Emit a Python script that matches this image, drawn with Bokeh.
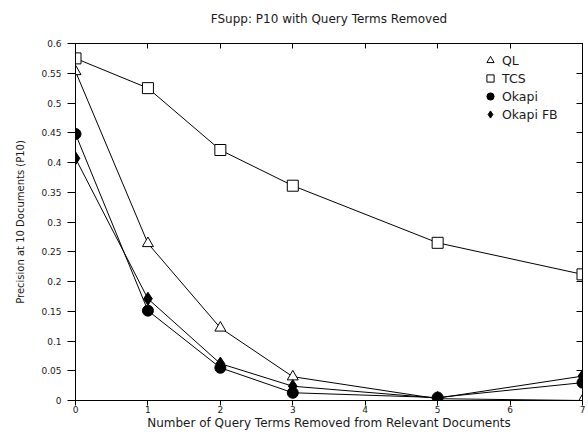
from bokeh.plotting import figure
from bokeh.models import LinearAxis, FixedTicker, Legend, LegendItem, Range1d
from bokeh.embed import file_html
from bokeh.resources import INLINE

x_vals = [0, 1, 2, 3, 5, 7]
ql = [0.553, 0.264, 0.122, 0.040, 0.003, 0.0]
tcs = [0.575, 0.525, 0.421, 0.361, 0.265, 0.212]
okapi = [0.448, 0.151, 0.055, 0.013, 0.005, 0.030]
okapi_fb = [0.407, 0.171, 0.062, 0.024, 0.004, 0.041]

x_ticks = [0, 1, 2, 3, 4, 5, 6, 7]
y_ticks = [0, 0.05, 0.1, 0.15, 0.2, 0.25, 0.3, 0.35, 0.4, 0.45, 0.5, 0.55, 0.6]
y_tick_labels = ["0", "0.05", "0.1", "0.15", "0.2", "0.25", "0.3", "0.35", "0.4", "0.45", "0.5", "0.55", "0.6"]

title_text = "FSupp: P10 with Query Terms Removed"
x_label = "Number of Query Terms Removed from Relevant Documents"
y_label = "Precision at 10 Documents (P10)"

FONT = "DejaVu Sans"
TXT = "#1a1a1a"

p = figure(width=588, height=432, output_backend="svg", toolbar_location=None,
           x_range=Range1d(0, 7), y_range=Range1d(0, 0.6),
           min_border_left=75, min_border_right=6, min_border_top=43, min_border_bottom=32)
p.title.visible = False
p.grid.visible = False
p.outline_line_color = "black"
p.outline_line_width = 1

xa = p.below[0]
ya = p.left[0]

# bottom axis
xa.ticker = FixedTicker(ticks=x_ticks)
xa.axis_label = x_label
xa.axis_label_text_font = FONT
xa.axis_label_text_font_size = "12px"
xa.axis_label_text_font_style = "normal"
xa.axis_label_text_color = TXT
xa.axis_label_standoff = 0
xa.major_label_text_font = FONT
xa.major_label_text_font_size = "9px"
xa.major_label_text_color = TXT
xa.major_tick_in = 0
xa.major_tick_out = 5
xa.minor_tick_line_color = None
xa.major_label_standoff = 0

# left axis
ya.ticker = FixedTicker(ticks=y_ticks)
ya.major_label_overrides = {v: s for v, s in zip(y_ticks, y_tick_labels)}
ya.axis_label = y_label
ya.axis_label_text_font = FONT
ya.axis_label_text_font_size = "10px"
ya.axis_label_text_font_style = "normal"
ya.axis_label_text_color = TXT
ya.axis_label_standoff = 12
ya.major_label_text_font = FONT
ya.major_label_text_font_size = "9px"
ya.major_label_text_color = TXT
ya.major_tick_in = 0
ya.major_tick_out = 8
ya.minor_tick_line_color = None
ya.major_label_standoff = 6

# top axis: ticks inside, no tick labels, carries the chart title
top = LinearAxis(ticker=FixedTicker(ticks=x_ticks), major_label_text_font_size="0px",
                 major_tick_in=5, major_tick_out=0, minor_tick_line_color=None,
                 major_label_standoff=0, axis_label=title_text,
                 axis_label_text_font=FONT, axis_label_text_font_size="12px",
                 axis_label_text_font_style="normal", axis_label_text_color=TXT,
                 axis_label_standoff=18)
top.major_label_text_color = None
p.add_layout(top, "above")

right = LinearAxis(ticker=FixedTicker(ticks=y_ticks), major_label_text_font_size="0px",
                   major_tick_in=6, major_tick_out=0, minor_tick_line_color=None,
                   major_label_standoff=0)
right.major_label_text_color = None
p.add_layout(right, "right")

lw = 1
p.line(x_vals, ql, line_color="black", line_width=lw)
m1 = p.scatter(x_vals, ql, marker="triangle", size=11, fill_color="white", line_color="black", line_width=1)
p.line(x_vals, tcs, line_color="black", line_width=lw)
m2 = p.scatter(x_vals, tcs, marker="square", size=11, fill_color="white", line_color="black", line_width=1)
p.line(x_vals, okapi, line_color="black", line_width=lw)
m3 = p.scatter(x_vals, okapi, marker="circle", size=11, fill_color="black", line_color="black")
p.line(x_vals, okapi_fb, line_color="black", line_width=lw)
m4 = p.scatter(x_vals, okapi_fb, marker="diamond", size=13, fill_color="black", line_color="black")

legend = Legend(items=[
    LegendItem(label="QL", renderers=[m1]),
    LegendItem(label="TCS", renderers=[m2]),
    LegendItem(label="Okapi", renderers=[m3]),
    LegendItem(label="Okapi FB", renderers=[m4]),
], location=(406, 277), border_line_color=None, background_fill_alpha=0,
    label_text_font=FONT, label_text_font_size="12.5px", label_text_color=TXT,
    glyph_width=18, glyph_height=18, label_height=18,
    spacing=0, label_standoff=3, padding=0, margin=0)
p.add_layout(legend, "center")

open("out.html", "w").write(file_html(p, INLINE))
